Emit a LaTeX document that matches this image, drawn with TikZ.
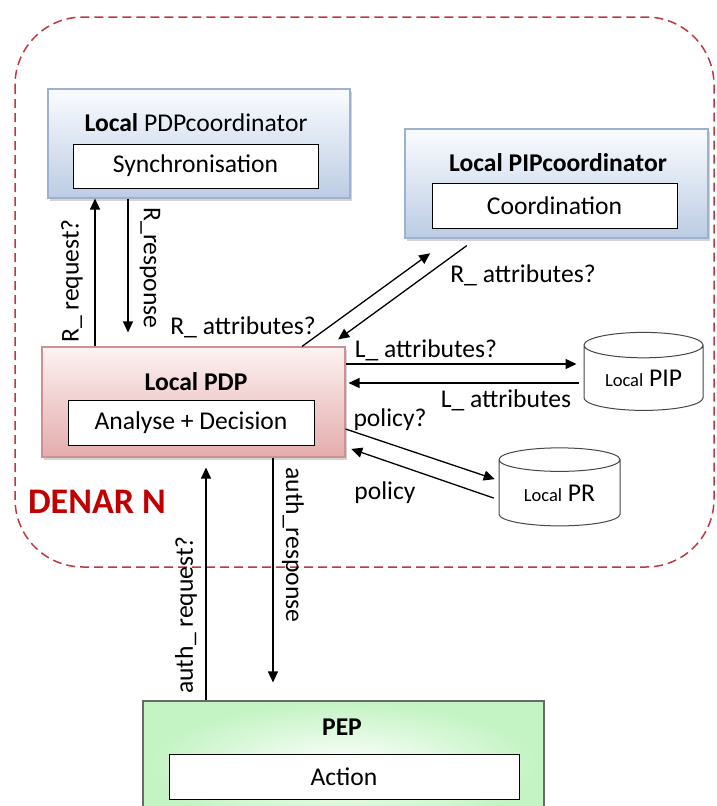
\documentclass[tikz,border=0pt]{standalone}
\usepackage{fontspec}
\setmainfont{Carlito}
\usetikzlibrary{shapes.geometric,arrows.meta,shadows,fadings,calc}

\definecolor{denarred}{RGB}{192,0,0}
\definecolor{zoneline}{RGB}{190,55,65}
\definecolor{blueedge}{RGB}{158,178,208}
\definecolor{bluebot}{RGB}{188,204,228}
\definecolor{bluetop}{RGB}{250,252,255}
\definecolor{pinkedge}{RGB}{205,145,145}
\definecolor{pinkbot}{RGB}{228,172,172}
\definecolor{pinktop}{RGB}{253,242,242}
\definecolor{greenfill}{RGB}{196,244,196}
\definecolor{greenedge}{RGB}{105,105,105}
\definecolor{drumedge}{RGB}{70,70,70}

\tikzfading[name=glow, inner color=transparent!0, outer color=transparent!100]

\begin{document}
\begin{tikzpicture}[x=1pt,y=-1pt,
  txt/.style={font=\fontsize{25.6}{30}\selectfont, inner sep=0pt},
  title/.style={txt},
  outerbox/.style={rectangle, line width=1.1pt, drop shadow={shadow xshift=2pt, shadow yshift=-3pt, opacity=0.35}},
  bluebox/.style={outerbox, draw=blueedge, top color=bluetop, bottom color=bluebot},
  pinkbox/.style={outerbox, draw=pinkedge, top color=pinktop, bottom color=pinkbot},
  innerbox/.style={txt, draw=black, fill=white, line width=1pt},
  drum/.style={cylinder, shape border rotate=90, draw=drumedge, fill=white, line width=1pt, aspect=0.33, txt},
  arr/.style={line width=1.3pt, -{Triangle[length=11pt,width=10pt]}},
  lbl/.style={txt},
]
\useasboundingbox (0,0) rectangle (716,806);

% DENAR domain boundary
\draw[zoneline, line width=1.5pt, dash pattern=on 9pt off 5pt, rounded corners=68pt]
  (15,17) rectangle (714,567);
\node[font=\fontsize{36}{40}\selectfont\bfseries, text=denarred, inner sep=0pt] (denar) at (97,502) {DENAR N};

% coordinator boxes
\node[bluebox, minimum width=302pt, minimum height=109pt] (pdpc) at (199,143.5) {};
\node[title] (pdpct) at (196,123) {\textbf{Local} PDPcoordinator};
\node[innerbox, minimum width=245pt, minimum height=44pt] (sync) at (195.5,166) {Synchronisation};

\node[bluebox, minimum width=303pt, minimum height=109pt] (pipc) at (556.5,183.5) {};
\node[title] (pipct) at (558,163) {\textbf{Local PIPcoordinator}};
\node[innerbox, minimum width=245pt, minimum height=45pt] (coord) at (554.5,205.5) {Coordination};

% local PDP
\node[pinkbox, minimum width=303pt, minimum height=110pt] (pdp) at (193.5,402) {};
\node[title] (pdpt) at (196,382) {\textbf{Local PDP}};
\node[innerbox, minimum width=246pt, minimum height=45pt] (ana) at (191,422.5) {Analyse + Decision};

% PEP
\node[rectangle, draw=greenedge, fill=greenfill, line width=1.1pt, minimum width=401pt, minimum height=130pt] (pep) at (343.5,766) {};
\fill[white, path fading=glow] (150,702) rectangle (537,830);
\node[title] (pept) at (342,727) {\textbf{PEP}};
\node[innerbox, minimum width=350pt, minimum height=45pt] (act) at (344,776.5) {Action};

% repositories
\node[drum, minimum width=119pt, minimum height=78pt] (pip) at (643.5,378) {{\fontsize{18.5}{22}\selectfont Local} PIP};
\node[drum, minimum width=121pt, minimum height=78pt] (pr) at (559.5,493) {{\fontsize{18.5}{22}\selectfont Local} PR};

% guide lines for connector positions
\coordinate (xreq) at (95,0);
\coordinate (xresp) at (128,0);
\coordinate (xd1a) at (302,0);
\coordinate (xd1b) at (450.4,0);
\coordinate (xd2a) at (476.5,0);
\coordinate (xd2b) at (328.5,0);
\coordinate (yla) at (0,364);
\coordinate (ylb) at (0,383);
\coordinate (ypa) at (0,429);
\coordinate (ypb) at (0,480.4);
\coordinate (ypc) at (0,499.7);
\coordinate (ypd) at (0,447);
\coordinate (xauq) at (206,0);
\coordinate (xaur) at (273,0);

% messages
\draw[arr] (pdp.north -| xreq) -- (pdpc.south -| xreq);
\draw[arr, shorten >=14pt] (pdpc.south -| xresp) -- (pdp.north -| xresp);
\draw[arr, shorten >=25pt] (pdp.north -| xd1a) -- (pipc.south -| xd1b);
\draw[arr, shorten <=12pt, shorten >=12pt] (pipc.south -| xd2a) -- (pdp.north -| xd2b);
\draw[arr, shorten >=7pt] (pdp.east |- yla) -- (pip.west |- yla);
\draw[arr, shorten <=5pt, shorten >=3pt] (pip.west |- ylb) -- (pdp.east |- ylb);
\draw[arr, shorten >=4pt] (pdp.east |- ypa) -- (pr.west |- ypb);
\draw[arr, shorten <=5pt, shorten >=6pt] (pr.west |- ypc) -- (pdp.east |- ypd);
\draw[arr, shorten >=10pt] (pep.north -| xauq) -- (pdp.south -| xauq);
\draw[arr, shorten >=18pt] (pdp.south -| xaur) -- (pep.north -| xaur);

% message labels
\node[lbl, rotate=90] (lreq) at (72,281) {R\_ request?};
\node[lbl, rotate=-90] (lresp) at (150,268) {R\_response};
\node[lbl] (lra1) at (523,275) {R\_ attributes?};
\node[lbl] (lra2) at (243,327) {R\_ attributes?};
\node[lbl] (lla1) at (426,350) {L\_ attributes?};
\node[lbl] (lla2) at (506,400) {L\_ attributes};
\node[lbl] (lpa) at (390,420) {policy?};
\node[lbl] (lpb) at (385,493) {policy};
\node[lbl, rotate=90] (lauq) at (186,615) {auth\_ request?};
\node[lbl, rotate=-90] (laur) at (293,545) {auth\_response};
\end{tikzpicture}
\end{document}
